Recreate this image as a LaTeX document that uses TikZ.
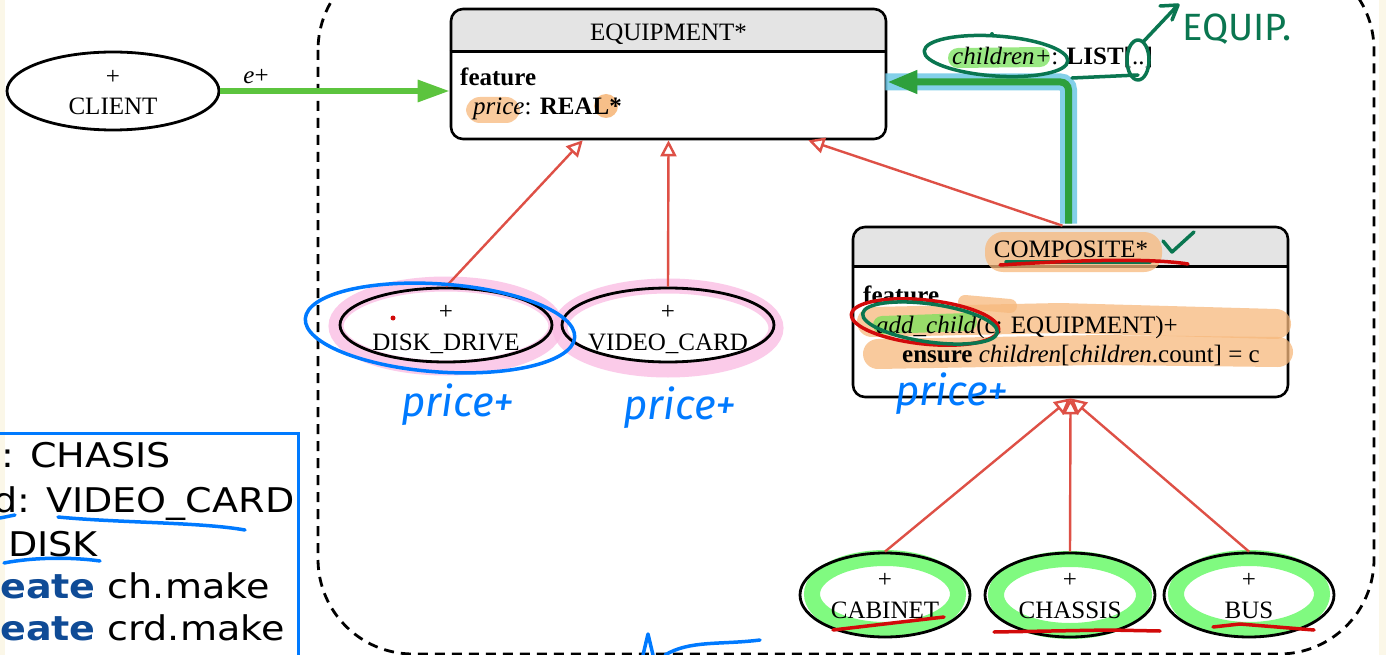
\documentclass[tikz,border=0pt]{standalone}
\usepackage{fontspec}
\setmainfont{Liberation Serif}
\newfontfamily\codefont[FakeStretch=1.12]{DejaVu Sans}
\newfontfamily\handfont{Fira Sans}
\usetikzlibrary{arrows.meta,shapes.geometric,calc}
\definecolor{inhred}{RGB}{222,80,70}
\definecolor{aggr}{RGB}{92,196,62}
\definecolor{aggrdark}{RGB}{46,160,60}
\definecolor{cyanhl}{RGB}{110,200,230}
\definecolor{hdrgray}{RGB}{228,228,228}
\definecolor{penblue}{RGB}{0,122,255}
\definecolor{pengreen}{RGB}{10,118,80}
\definecolor{penred}{RGB}{210,10,10}
\definecolor{hlorange}{RGB}{247,185,125}
\definecolor{hlpink}{RGB}{250,190,228}
\definecolor{hlgreen}{RGB}{128,250,128}
\definecolor{hlgreen2}{RGB}{120,225,90}
\definecolor{kwblue}{RGB}{15,75,150}
\definecolor{pagebg}{RGB}{251,247,232}
\tikzset{
  cls/.style={draw, line width=2.6pt, rounded corners=12pt, inner sep=0pt},
  ell/.style={ellipse, draw, line width=2.8pt, inner sep=0pt},
  txt/.style={inner sep=0pt, font=\fontsize{25}{30}\selectfont},
  code/.style={inner sep=0pt, anchor=base west, font=\codefont\fontsize{34}{36}\selectfont},
  hand/.style={inner sep=0pt, font=\handfont\itshape\fontsize{42}{44}\selectfont},
  inh/.style={draw=inhred, line width=2.4pt, -{Triangle[open, length=16pt, width=16pt, fill=white]}},
  hl/.style={line width=#1, line cap=round, line join=round, opacity=.75},
  pen/.style={line width=3.5pt, line cap=round, line join=round},
}
\begin{document}
\begin{tikzpicture}[x=1pt,y=-1pt]
\useasboundingbox (0,0) rectangle (1386,655);
\begin{scope}
\clip (0,0) rectangle (1386,655);
\fill[white] (0,0) rectangle (1386,655);
\fill[pagebg] (0,0) rectangle (5,655);
\fill[pagebg] (1379,0) rectangle (1386,655);
% boundary of the cluster
\draw[line width=2.8pt, dash pattern=on 10pt off 7pt, rounded corners=95pt] (318,-45) rectangle (1374,654);

% ---------- classes ----------
\begin{scope}
\clip[rounded corners=12pt] (451,9) rectangle (886,139);
\fill[hdrgray] (451,9) rectangle (886,53);
\end{scope}
\node[cls, minimum width=435pt, minimum height=130pt] (equip) at (668.5,74) {};
\draw[line width=2.6pt] ($(equip.north west)+(0,44)$) -- ($(equip.north east)+(0,44)$);

\begin{scope}
\clip[rounded corners=12pt] (853,227) rectangle (1288,397);
\fill[hdrgray] (853,227) rectangle (1288,268);
\end{scope}
\node[cls, minimum width=435pt, minimum height=170pt] (comp) at (1070.5,312) {};
\draw[line width=2.6pt] ($(comp.north west)+(0,41)$) -- ($(comp.north east)+(0,41)$);

% ---------- highlights (behind text) ----------
\fill[hlorange, opacity=.75, rounded corners=14pt] (466,97) rectangle (520,123);
\fill[hlorange, opacity=.9] (606,106) circle (12pt);
\fill[hlorange, opacity=.75, rounded corners=18pt] (985,232) rectangle (1162,272);
\draw[hlorange, hl=30pt] (872,322) -- (1060,318) -- (1276,324);
\draw[hlorange, hl=30pt] (878,354) -- (1100,350) -- (1278,352);
\draw[hlorange, hl=14pt] (965,302) -- (1010,306);
\draw[hlgreen2, hl=18pt] (882,325) -- (968,322);
\draw[hlgreen2, hl=20pt] (958,58) -- (1040,57);

% pink and green highlights around the leaf classes
\draw[hlpink, line width=15pt, opacity=.8] (446,326) ellipse [x radius=110pt, y radius=42pt];
\draw[hlpink, line width=15pt, opacity=.8] (668,328) ellipse [x radius=108pt, y radius=42pt];
\draw[hlgreen, line width=16pt] (885,594) ellipse [x radius=73pt, y radius=36pt];
\draw[hlgreen, line width=16pt] (1070,595) ellipse [x radius=74pt, y radius=36pt];
\draw[hlgreen, line width=16pt] (1249,594) ellipse [x radius=73pt, y radius=36pt];

% ---------- leaf classes ----------
\node[ell, minimum width=212pt, minimum height=78pt] (client) at (113,91) {};
\node[ell, minimum width=212pt, minimum height=74pt] (dd) at (446,325) {};
\node[ell, minimum width=212pt, minimum height=74pt] (vc) at (668,325) {};
\node[ell, minimum width=170pt, minimum height=84pt] (cab) at (885,595) {};
\node[ell, minimum width=170pt, minimum height=84pt] (chs) at (1070,595) {};
\node[ell, minimum width=170pt, minimum height=84pt] (bus) at (1249,595) {};

\node[txt] (clientp) at (113,77) {+};
\node[txt, anchor=base] (clientt) at (113,115) {CLIENT};
\node[txt] (ddp) at (446,312) {+};
\node[txt, anchor=base] (ddt) at (446,350) {DISK\_DRIVE};
\node[txt] (vcp) at (668,312) {+};
\node[txt, anchor=base] (vct) at (668,350) {VIDEO\_CARD};
\node[txt] (cabp) at (885,580) {+};
\node[txt, anchor=base] (cabt) at (885,618) {CABINET};
\node[txt] (chsp) at (1070,580) {+};
\node[txt, anchor=base] (chst) at (1070,618) {CHASSIS};
\node[txt] (busp) at (1249,580) {+};
\node[txt, anchor=base] (bust) at (1249,618) {BUS};

% ---------- class texts ----------
\node[txt, anchor=base] (equipt) at (668.5,41) {EQUIPMENT*};
\node[txt, anchor=base west] (equipf) at (460,86) {\textbf{feature}};
\node[txt, anchor=base west] (equipa) at (473,115) {\textit{price}: \textbf{REAL*}};
\node[txt, anchor=base] (compt) at (1071,257) {COMPOSITE*};
\node[txt, anchor=base west] (compf) at (863,303) {\textbf{feature}};
\node[txt, anchor=base west] (compa) at (876,333) {\textit{add\_child}(c: EQUIPMENT)+};
\node[txt, anchor=base west] (compe) at (902,362) {\textbf{ensure} \textit{children}[\textit{children}.count] = c};

% ---------- connectors ----------
\draw[aggr, line width=6pt, -{Triangle[length=32pt, width=21pt]}] (client.east) -- (client.east -| equip.west);
\node[txt, anchor=base] (elabel) at (256,84) {\textit{e}+};

\draw[cyanhl, line width=17pt, opacity=.85, rounded corners=8pt] ($(comp.north)+(-2,-2)$) |- ($(equip.east)+(-2,8)$);
\draw[aggrdark, line width=7pt, rounded corners=8pt, -{Triangle[length=30pt, width=22pt]}] ($(comp.north)+(-2,-2)$) |- ($(equip.east)+(0,8)$);
\node[txt, anchor=base west] (childl) at (952,65) {\textit{children+}: \textbf{LIST}[..]};

\draw[inh] (dd.north) -- ($(equip.south west)+(133,0)$);
\draw[inh] (vc.north) -- (equip.south);
\draw[inh] ($(comp.north)+(-8,0)$) -- ($(equip.south east)+(-79,0)$);
\draw[inh] (cab.north) -- (comp.south);
\draw[inh] (chs.north) -- (comp.south);
\draw[inh] (bus.north) -- (comp.south);

% ---------- pen annotations ----------
\draw[penblue, pen] (440,328) ellipse [x radius=135pt, y radius=44pt, rotate=-4];
\fill[penred] (393,318) circle (2.5pt);
\node[hand, text=penblue] (p1) at (458,405) {price+};
\node[hand, text=penblue] (p2) at (680,408) {price+};
\node[hand, text=penblue] (p3) at (952,394) {price+};

\draw[pengreen, pen] (1006,262) -- (1150,262);
\draw[penred, pen] (1000,265) .. controls (1080,260) and (1150,258) .. (1188,264);
\draw[pengreen, pen] (1163,241) -- (1172,252) -- (1194,232);
\draw[penred, pen] (925,322) ellipse [x radius=74pt, y radius=22pt, rotate=-6];
\draw[pengreen, pen] (930,323) ellipse [x radius=68pt, y radius=19pt, rotate=-8];

\draw[pengreen, pen] (996,56) ellipse [x radius=72pt, y radius=20pt, rotate=-4];
\fill[pengreen] (992,34) circle (2pt);
\draw[pengreen, pen] (1138,60) ellipse [x radius=11pt, y radius=20pt];
\draw[pengreen, pen] (1072,78) -- (1138,75);
\draw[pengreen, pen] (1143,42) -- (1177,6);
\draw[pengreen, pen] (1160,6) -- (1178,5) -- (1172,20);
\node[hand, text=pengreen, font=\handfont\fontsize{38}{40}\selectfont] (equipnote) at (1237,29) {EQUIP.};

\draw[penred, pen] (833,630) -- (944,617);
\draw[penred, pen] (994,632) -- (1108,630) -- (1160,631);
\draw[penred, pen] (1213,627) -- (1240,624) -- (1314,630);

% ---------- code box at the bottom left ----------
\draw[penblue, line width=3pt] (-5,433) -- (298,433) -- (298,660);
\node[code] (c1) at (1,467) {: CHASIS};
\node[code] (c2) at (-7,512) {d: VIDEO\_CARD};
\node[code] (c3) at (8,556) {DISK};
\node[code] (c4) at (0,598) {\textcolor{kwblue}{\bfseries eate} ch.make};
\node[code] (c5) at (0,640) {\textcolor{kwblue}{\bfseries eate} crd.make};
\draw[penblue, pen] (0,518) -- (15,515);
\draw[penblue, pen] (58,517) .. controls (120,523) and (200,522) .. (245,530);
\draw[penblue, pen] (4,563) .. controls (40,556) and (80,558) .. (100,561);

% scribble at the bottom edge
\draw[penblue, pen] (643,655) -- (648,634) -- (653,655);
\draw[penblue, pen] (665,655) .. controls (690,640) and (720,645) .. (760,640);
\end{scope}
\end{tikzpicture}
\end{document}
